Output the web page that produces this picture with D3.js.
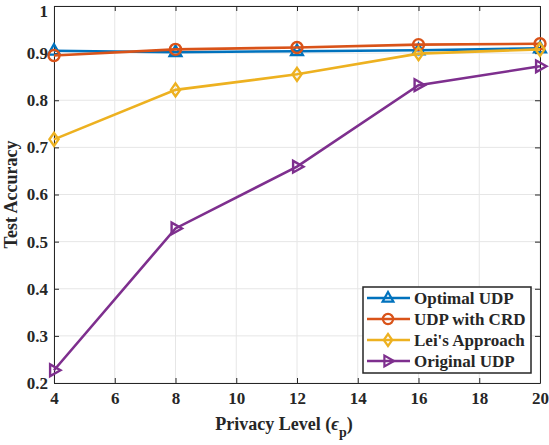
<!DOCTYPE html>
<html>
<head>
<meta charset="utf-8">
<script src="https://cdn.jsdelivr.net/npm/d3@7"></script>
<style>
  html, body { margin: 0; padding: 0; background: #fff; }
  svg text { font-family: 'Liberation Serif', 'Times New Roman', serif; font-weight: bold; fill: #262626; }
</style>
</head>
<body>
<div id="chart"></div>
<script>
// Privacy level vs test accuracy
const privacyLevels = [4, 8, 12, 16, 20];
const optimalUDP   = [0.905, 0.902, 0.904, 0.906, 0.910];
const udpWithCRD   = [0.895, 0.908, 0.912, 0.918, 0.920];
const leiApproach  = [0.717, 0.822, 0.855, 0.899, 0.908];
const originalUDP  = [0.227, 0.528, 0.659, 0.832, 0.872];

const xTicks = [4, 6, 8, 10, 12, 14, 16, 18, 20];
const yTicks = [0.2, 0.3, 0.4, 0.5, 0.6, 0.7, 0.8, 0.9, 1];

const seriesNames = ['Optimal UDP', 'UDP with CRD', "Lei's Approach", 'Original UDP'];

(function () {
    const series = [
        { name: seriesNames[0], values: optimalUDP,  color: '#0072BD', marker: 'triUp' },
        { name: seriesNames[1], values: udpWithCRD,  color: '#D95319', marker: 'circle' },
        { name: seriesNames[2], values: leiApproach, color: '#EDB120', marker: 'diamond' },
        { name: seriesNames[3], values: originalUDP, color: '#7E2F8E', marker: 'triRight' }
    ];

    const width = 549, height = 445;
    const margin = { top: 6, right: 9, bottom: 62, left: 54 };
    const innerW = width - margin.left - margin.right;
    const innerH = height - margin.top - margin.bottom;

    const svg = d3.select('#chart').append('svg')
        .attr('width', width).attr('height', height);

    const g = svg.append('g').attr('transform', `translate(${margin.left},${margin.top})`);

    const x = d3.scaleLinear().domain([4, 20]).range([0, innerW]);
    const y = d3.scaleLinear().domain([0.2, 1]).range([innerH, 0]);

    // Grid
    g.selectAll('.vgrid').data(xTicks).enter().append('line')
        .attr('x1', d => x(d)).attr('x2', d => x(d))
        .attr('y1', 0).attr('y2', innerH)
        .attr('stroke', '#e6e6e6').attr('stroke-width', 1);
    g.selectAll('.hgrid').data(yTicks).enter().append('line')
        .attr('x1', 0).attr('x2', innerW)
        .attr('y1', d => y(d)).attr('y2', d => y(d))
        .attr('stroke', '#e6e6e6').attr('stroke-width', 1);

    // Axes (ticks inward, box on)
    const fmtY = d => (d === 1 ? '1' : d3.format('.1f')(d));
    g.append('g').attr('transform', `translate(0,${innerH})`)
        .call(d3.axisBottom(x).tickValues(xTicks).tickSizeInner(-5).tickSizeOuter(0).tickPadding(9))
        .call(a => a.select('.domain').attr('stroke', '#262626'))
        .call(a => a.selectAll('.tick line').attr('stroke', '#262626'))
        .selectAll('text').attr('font-size', '17px').attr('fill', '#262626')
        .attr('font-family', "'Liberation Serif', serif").attr('font-weight', 'bold');
    g.append('g')
        .call(d3.axisTop(x).tickValues(xTicks).tickSizeInner(-5).tickSizeOuter(0).tickFormat(''))
        .call(a => a.select('.domain').attr('stroke', '#262626'))
        .call(a => a.selectAll('.tick line').attr('stroke', '#262626'));
    g.append('g')
        .call(d3.axisLeft(y).tickValues(yTicks).tickFormat(fmtY).tickSizeInner(-5).tickSizeOuter(0).tickPadding(6))
        .call(a => a.select('.domain').attr('stroke', '#262626'))
        .call(a => a.selectAll('.tick line').attr('stroke', '#262626'))
        .selectAll('text').attr('font-size', '17px').attr('fill', '#262626')
        .attr('font-family', "'Liberation Serif', serif").attr('font-weight', 'bold')
        .attr('dy', d => (d === 1 ? '0.62em' : '0.32em'));
    g.append('g').attr('transform', `translate(${innerW},0)`)
        .call(d3.axisRight(y).tickValues(yTicks).tickSizeInner(-5).tickSizeOuter(0).tickFormat(''))
        .call(a => a.select('.domain').attr('stroke', '#262626'))
        .call(a => a.selectAll('.tick line').attr('stroke', '#262626'));

    // Marker shapes
    function markerPath(type, s) {
        if (type === 'triUp') return `M0,${-s}L${s * 0.9},${s * 0.6}L${-s * 0.9},${s * 0.6}Z`;
        if (type === 'triRight') return `M${s},0L${-s * 0.6},${s * 0.9}L${-s * 0.6},${-s * 0.9}Z`;
        if (type === 'diamond') return `M0,${-s}L${s * 0.7},0L0,${s}L${-s * 0.7},0Z`;
        return d3.symbol().type(d3.symbolCircle).size(Math.PI * s * s * 0.72)();
    }

    const line = d3.line().x(d => x(d[0])).y(d => y(d[1]));

    series.forEach(s => {
        const pts = privacyLevels.map((p, i) => [p, s.values[i]]);
        g.append('path').datum(pts)
            .attr('fill', 'none').attr('stroke', s.color).attr('stroke-width', 2.6)
            .attr('d', line);
        g.selectAll(null).data(pts).enter().append('path')
            .attr('transform', d => `translate(${x(d[0])},${y(d[1])})`)
            .attr('d', markerPath(s.marker, 6.5))
            .attr('fill', 'none').attr('stroke', s.color).attr('stroke-width', 2.4);
    });

    // Axis labels
    svg.append('text')
        .attr('x', 284).attr('y', height - 15)
        .attr('text-anchor', 'middle').attr('font-size', '18px')
        .call(t => {
            t.append('tspan').text('Privacy Level (');
            t.append('tspan').text('ϵ').attr('font-style', 'italic');
            t.append('tspan').text('p').attr('font-size', '14px').attr('dy', 7);
            t.append('tspan').text(')').attr('dy', -7);
        });

    svg.append('text')
        .attr('transform', 'rotate(-90)')
        .attr('x', -(margin.top + innerH / 2)).attr('y', 17)
        .attr('text-anchor', 'middle').attr('font-size', '18px')
        .text('Test Accuracy');

    // Legend
    const lg = svg.append('g').attr('transform', 'translate(363,287)');
    lg.append('rect').attr('width', 168).attr('height', 86)
        .attr('fill', '#fff').attr('stroke', '#262626').attr('stroke-width', 1.5);
    series.forEach((s, i) => {
        const row = lg.append('g').attr('transform', `translate(0,${11 + i * 21})`);
        row.append('line').attr('x1', 4).attr('x2', 47).attr('y1', 0).attr('y2', 0)
            .attr('stroke', s.color).attr('stroke-width', 2.6);
        row.append('path').attr('transform', 'translate(25,0)')
            .attr('d', markerPath(s.marker, 6))
            .attr('fill', 'none').attr('stroke', s.color).attr('stroke-width', 2.2);
        row.append('text').attr('x', 51).attr('y', 6)
            .attr('font-size', '17px').text(s.name);
    });
})();
</script>
</body>
</html>
